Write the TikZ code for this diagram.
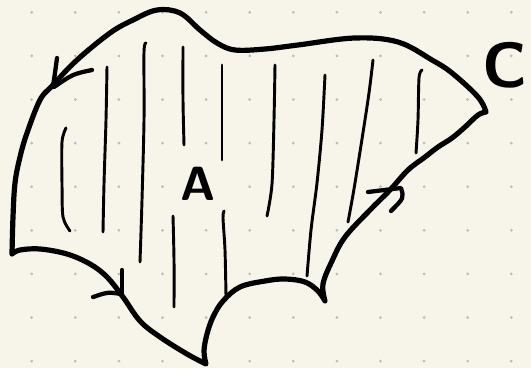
\documentclass[tikz,border=0pt]{standalone}
\usepackage{fontspec}
\definecolor{paper}{RGB}{247,245,233}
\definecolor{dotgray}{RGB}{188,188,184}
\begin{document}
\begin{tikzpicture}[x=0.75pt,y=-0.75pt,
  rim/.style={line width=3.9pt,line cap=round,line join=round},
  hatch/.style={line width=2.2pt,line cap=round},
  barb/.style={line width=3.2pt,line cap=round,line join=round},
  hand/.style={font=\sffamily\bfseries\fontsize{#1}{#1}\selectfont,inner sep=0pt}]
\fill[paper] (0,0) rectangle (531,368);
\useasboundingbox (0,0) rectangle (531,368);
\foreach \i in {0,...,11}
  \foreach \j in {0,...,8}
    \fill[dotgray] (31.7+43.6*\i,12.3+43.6*\j) circle (1.5);

\draw[rim] plot[smooth,tension=0.6] coordinates {(12,254) (13,217) (15,183) (20,157) (27,133) (40,100) (52,86) (77,60) (110,33) (133,20) (157,10) (180,13) (200,30) (217,43) (235,50) (265,49) (298,45) (355,38) (398,42) (432,60) (452,73) (478,97) (486,112)}
  -- plot[smooth,tension=0.6] coordinates {(486,112) (478,115) (465,127) (452,138) (438,147) (425,157) (408,170) (390,190) (370,210) (345,237) (332,261) (323,284) (325,301)}
  -- plot[smooth,tension=0.6] coordinates {(325,301) (318,291) (305,282) (285,279) (265,281) (240,287) (223,301) (213,317) (207,334) (204,351) (206,364)}
  -- plot[smooth,tension=0.6] coordinates {(206,364) (187,354) (160,337) (140,321) (123,297) (107,277) (90,264) (67,254) (40,249) (20,250) (12,254)};

\draw[hatch] plot[smooth] coordinates {(66,128) (62,142) (62,184) (63,217) (70,231)};
\draw[hatch] plot[smooth] coordinates {(107,67) (106,120) (104,184) (103,232)};
\draw[hatch] plot[smooth] coordinates {(146,43) (144,52) (144,120) (142,200) (140,262)};
\draw[hatch] plot[smooth] coordinates {(183,47) (183,100) (184,145)};
\draw[hatch] plot[smooth] coordinates {(222,65) (222,110) (222,160)};
\draw[hatch] plot[smooth] coordinates {(173,216) (174,260) (174,307)};
\draw[hatch] plot[smooth] coordinates {(224,211) (223,218) (225,250) (226,296)};
\draw[hatch] plot[smooth] coordinates {(275,65) (274,120) (272,184) (267,216)};
\draw[hatch] plot[smooth] coordinates {(325,75) (322,130) (317,183) (311,230) (307,276)};
\draw[hatch] plot[smooth] coordinates {(373,60) (368,100) (355,183) (348,222)};
\draw[hatch] plot[smooth] coordinates {(422,70) (419,78) (418,120) (416,153)};

\draw[barb] (57,58) -- (55,73) -- (53,86);
\draw[barb] (92,70) .. controls (73,74) .. (54,87);
\draw[barb] (122,270) -- (122,295);
\draw[barb] (93,297) .. controls (108,292) .. (121,294);
\draw[barb] (368,192) -- (401,188) .. controls (404,198) .. (391,211);

\node[hand=36] (areaA) at (198,184) {A};
\node[hand=48,anchor=east] (curveC) at (528,65) {C};
\end{tikzpicture}
\end{document}
